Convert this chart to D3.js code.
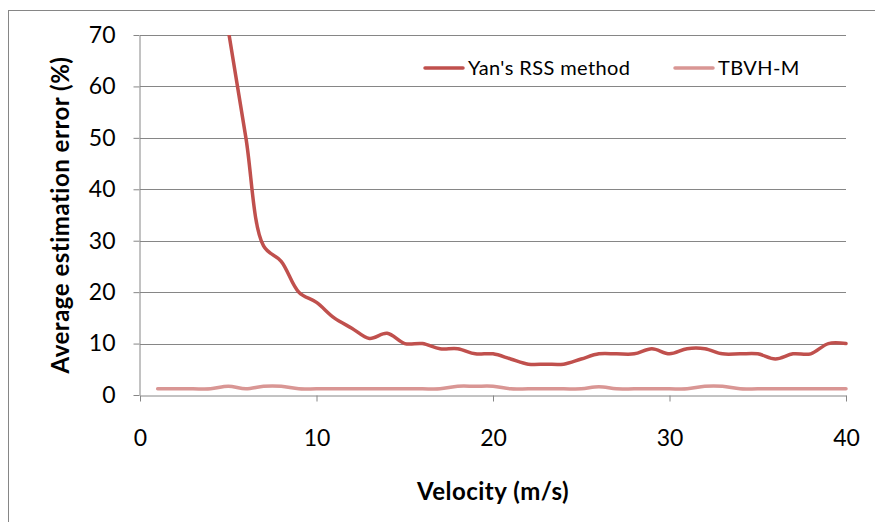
<!DOCTYPE html>
<html>
<head>
<meta charset="utf-8">
<script src="https://cdn.jsdelivr.net/npm/d3@7"></script>
<style>
    body { margin: 0; background: #fff; }
    text { font-family: Lato, "Liberation Sans", sans-serif; fill: #000; }
</style>
</head>
<body>
<svg id="chart"></svg>
<script>
const velocity = d3.range(1, 41);
// Yan's RSS method only shows up from 5 m/s (it is clipped at 70 above that)
const yanX = d3.range(5, 41);
const yanValues = [71, 50, 29, 26, 20, 18, 15, 13, 11, 12, 10, 10, 9, 9, 8, 8, 7, 6, 6, 6,
    7, 8, 8, 8, 9, 8, 9, 9, 8, 8, 8, 7, 8, 8, 10, 10];
const tbvhValues = [1.2, 1.2, 1.2, 1.2, 1.7, 1.2, 1.7, 1.7, 1.2, 1.2, 1.2, 1.2, 1.2, 1.2, 1.2, 1.2, 1.2, 1.7, 1.7, 1.7,
    1.2, 1.2, 1.2, 1.2, 1.2, 1.6, 1.2, 1.2, 1.2, 1.2, 1.2, 1.7, 1.7, 1.2, 1.2, 1.2, 1.2, 1.2, 1.2, 1.2];
const seriesNames = ["Yan's RSS method", "TBVH-M"];
const seriesColors = ["#c0504d", "#d99694"];
const xTicks = [0, 10, 20, 30, 40];
const yTicks = [0, 10, 20, 30, 40, 50, 60, 70];

const width = 875, height = 522;
const plot = {left: 140, right: 846, top: 35, bottom: 395};
const gridColor = "#868686";

const svg = d3.select("#chart")
    .attr("width", width)
    .attr("height", height);

// outer chart frame, only top and left edges are inside the picture
svg.append("rect")
    .attr("x", 8.5).attr("y", 10.5)
    .attr("width", 900).attr("height", 600)
    .attr("fill", "none")
    .attr("stroke", gridColor);

const x = d3.scaleLinear().domain([0, 40]).range([plot.left, plot.right]);
const y = d3.scaleLinear().domain([0, 70]).range([plot.bottom, plot.top]);

// horizontal gridlines
svg.append("g")
    .selectAll("line")
    .data(yTicks.filter(d => d > 0))
    .enter()
    .append("line")
    .attr("x1", plot.left).attr("x2", plot.right)
    .attr("y1", d => Math.round(y(d)) + 0.5)
    .attr("y2", d => Math.round(y(d)) + 0.5)
    .attr("stroke", gridColor);

// y axis
const yAxis = svg.append("g")
    .attr("transform", `translate(${plot.left - 0.5},0)`)
    .call(d3.axisLeft(y).tickValues(yTicks).tickSize(6).tickPadding(18).tickSizeOuter(0));
yAxis.select(".domain").attr("stroke", gridColor);
yAxis.selectAll(".tick line").attr("stroke", gridColor);
yAxis.selectAll(".tick text").attr("font-size", 23).attr("font-family", "Lato");

// x axis
const xAxis = svg.append("g")
    .attr("transform", `translate(0,${plot.bottom + 0.5})`)
    .call(d3.axisBottom(x).tickValues(xTicks).tickSize(6).tickPadding(28).tickSizeOuter(0));
xAxis.select(".domain").attr("stroke", gridColor);
xAxis.selectAll(".tick line").attr("stroke", gridColor);
xAxis.selectAll(".tick text").attr("font-size", 23).attr("font-family", "Lato");

// axis titles
svg.append("text")
    .attr("x", (plot.left + plot.right) / 2)
    .attr("y", 500)
    .attr("text-anchor", "middle")
    .attr("font-size", 24)
    .attr("font-weight", "bold")
    .attr("letter-spacing", 0.5)
    .text("Velocity (m/s)");

svg.append("text")
    .attr("transform", `translate(69,${(plot.top + plot.bottom) / 2}) rotate(-90)`)
    .attr("text-anchor", "middle")
    .attr("font-size", 24)
    .attr("font-weight", "bold")
    .attr("letter-spacing", 0.5)
    .text("Average estimation error (%)");

// clip lines to plot area
svg.append("clipPath").attr("id", "plot-clip")
    .append("rect")
    .attr("x", plot.left).attr("y", plot.top)
    .attr("width", plot.right - plot.left + 4)
    .attr("height", plot.bottom - plot.top);

const line = d3.line()
    .x(d => x(d[0]))
    .y(d => y(d[1]))
    .curve(d3.curveCatmullRom.alpha(0.5));

const series = [
    yanX.map((v, i) => [v, yanValues[i]]),
    velocity.map((v, i) => [v, tbvhValues[i]])
];

svg.append("g")
    .attr("clip-path", "url(#plot-clip)")
    .selectAll("path")
    .data(series)
    .enter()
    .append("path")
    .attr("d", line)
    .attr("fill", "none")
    .attr("stroke", (d, i) => seriesColors[i])
    .attr("stroke-width", 3.5)
    .attr("stroke-linecap", "round")
    .attr("stroke-linejoin", "round");

// legend
const legendX = [424, 674];
const legend = svg.append("g")
    .selectAll("g")
    .data(seriesNames)
    .enter()
    .append("g")
    .attr("transform", (d, i) => `translate(${legendX[i]},68)`);
legend.append("line")
    .attr("x1", 1).attr("x2", 39)
    .attr("stroke", (d, i) => seriesColors[i])
    .attr("stroke-width", 3.5)
    .attr("stroke-linecap", "round");
legend.append("text")
    .attr("x", 44)
    .attr("dy", "0.35em")
    .attr("font-size", 20)
    .attr("letter-spacing", 0.4)
    .text(d => d);
</script>
</body>
</html>
